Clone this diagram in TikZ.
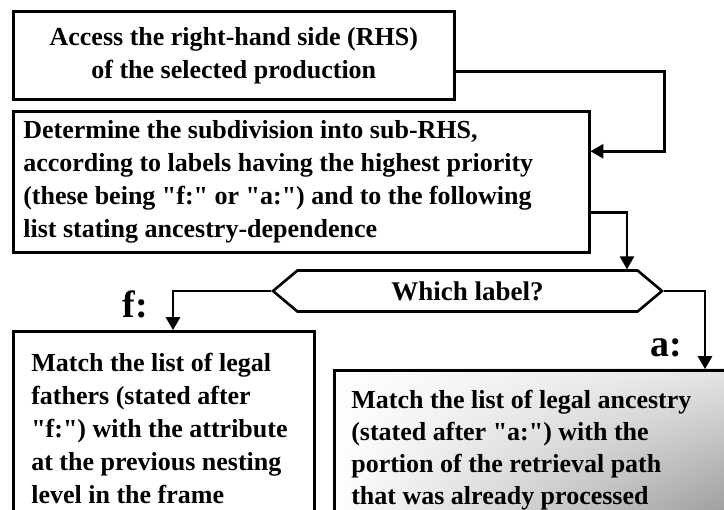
\documentclass[tikz,border=0pt]{standalone}
\usepackage{fontspec}
\setmainfont{Liberation Serif}[Ligatures=TeXOff]
\usetikzlibrary{arrows,shapes.symbols,shadings}

\begin{document}
\begin{tikzpicture}[x=1pt,y=-1pt,>=triangle 60,line width=2.6pt,
                    box/.style={draw,rectangle,anchor=north west,inner xsep=10pt,
                                font=\fontsize{26}{33}\selectfont\bfseries},
                    tag/.style={font=\fontsize{38}{38}\selectfont\bfseries,anchor=base}]
  \useasboundingbox (0,0) rectangle (724,510);
  \clip (0,0) rectangle (724,510);
  \shade[upper left=white,upper right=gray!20,lower left=white,lower right=gray!75]
    (333,369) rectangle (724,510);
  \node[box,minimum width=441pt,minimum height=88pt,align=center] (access) at (12,10)
    {Access the right-hand side (RHS)\\of the selected production};
  \node[box,text width=556pt,minimum height=141pt,align=flush left] (subdiv) at (12,110)
    {Determine the subdivision into sub-RHS,\\
     according to labels having the highest priority\\
     (these being "f:" or "a:") and to the following\\
     list stating ancestry-dependence};
  \node[draw,signal,signal to=east and west,signal pointer angle=80,
        minimum width=389pt,minimum height=41pt,
        font=\fontsize{27}{27}\selectfont\bfseries] (which) at (467.5,291) {Which label?};
  \node[box,inner xsep=18pt,inner ysep=22pt,text width=265pt,text depth=200pt,
        align=flush left] (fathers) at (12,330)
    {Match the list of legal\\
     fathers (stated after\\
     "f:") with the attribute\\
     at the previous nesting\\
     level in the frame};
  \node[box,inner xsep=17pt,inner ysep=20pt,text width=420pt,text depth=200pt,
        font=\fontsize{26}{32}\selectfont\bfseries,align=flush left] (ancestry) at (333,369)
    {Match the list of legal ancestry\\
     (stated after "a:") with the\\
     portion of the retrieval path\\
     that was already processed};
  \node[tag] (f) at (135.5,318) {f:};
  \node[tag] (a) at (666,357) {a:};
  \draw[->] ([yshift=-16pt]access.east) -- ++(209,0) |- ([yshift=30.5pt]subdiv.east);
  \draw[->] ([yshift=-30.5pt]subdiv.east) -| ([xshift=159.5pt]which.north);
  \draw[->] (which.west) -| ([xshift=161pt]fathers.north west);
  \draw[->] (which.east) -| ([xshift=372pt]ancestry.north west);
\end{tikzpicture}
\end{document}
